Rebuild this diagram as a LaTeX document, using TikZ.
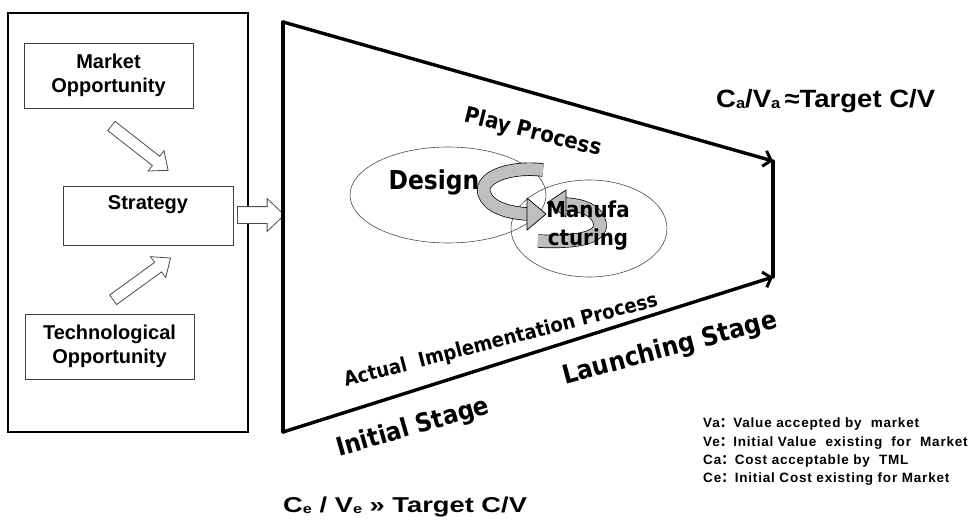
\documentclass[tikz,border=0pt]{standalone}
\usepackage{fontspec}
\usepackage{graphicx}
\setmainfont{Liberation Sans}
\newfontfamily\vfont[FakeStretch=0.9]{DejaVu Sans}
\newfontfamily\widefont[FakeStretch=1.27]{Liberation Sans}
\newfontfamily\ratiofont[FakeStretch=1.1]{Liberation Sans}
\newfontfamily\cjk{Noto Sans CJK SC}
\usetikzlibrary{shapes.geometric,shapes.arrows,arrows.meta}
% small lowered index letter used in C_a, V_e, ...
\newcommand{\idx}[1]{\raisebox{-0.05em}{\scalebox{0.6}{#1}}}
% full-width colon of the legend
\newcommand{\fwcolon}{{\cjk ：}}

\begin{document}
\begin{tikzpicture}[x=1pt,y=-1pt,
  box/.style={draw=black!75, line width=0.9pt, inner sep=0pt, align=center,
    font=\fontsize{20}{24}\selectfont\bfseries},
  hollow/.style={single arrow, draw=black!70, line width=0.8pt, fill=white,
    inner sep=5.5pt, single arrow head extend=7pt, minimum width=25pt,
    single arrow tip angle=80},
  frame/.style={line width=3.4pt, line cap=round, line join=round},
  frametip/.style={frame, -{Straight Barb[length=7pt,width=16pt,line width=3pt]}},
  oval/.style={ellipse, draw=black!70, line width=0.6pt, inner sep=0pt},
  ribbon/.style={line width=0.7pt, double=gray!50, double distance=12pt},
  ribbonhead/.style={fill=gray!50, draw=black, line width=0.7pt, line join=round},
  slant/.style={font=\vfont\bfseries, inner sep=0pt},
  legend/.style={anchor=base west, inner sep=0pt,
    font=\fontsize{13.5}{16}\selectfont\bfseries\addfontfeature{LetterSpace=6}}
]
\useasboundingbox (0,0) rectangle (975,522);

% ---------- left panel ----------
\node[draw=black, line width=1.8pt, minimum width=240pt, minimum height=419pt,
  inner sep=0pt] (panel) at (128,222.5) {};
\node[box, minimum width=169pt, minimum height=65pt] (mkt) at (108.5,75.5) {Market\\Opportunity};
\node[box, minimum width=170pt, minimum height=59pt] (strat) at (148,215.5) {Strategy\\[2pt]~};
\node[box, minimum width=169pt, minimum height=65pt] (tech) at (109.5,346.5) {Technological\\Opportunity};

\node[hollow, minimum height=72pt, rotate=-38] (a1) at (137,146) {};
\node[hollow, minimum height=71pt, rotate=36] (a2) at (139,281) {};
\node[hollow, minimum height=47pt, inner sep=8pt, single arrow head extend=8pt,
  minimum width=32pt, single arrow tip angle=87] (a3) at (256.5,215) {};

% ---------- trapezoid frame ----------
\coordinate (tl) at (283,22);
\coordinate (bl) at (283,432);
\coordinate (tr) at (773,161);
\coordinate (br) at (773,277);
\draw[frame] (bl) -- (tl);
\draw[frametip] (tl) -- (tr);
\draw[frametip] (bl) -- (br);
\draw[frame] (tr) -- (br);

% ---------- design / manufacturing loop ----------
\node[oval, minimum width=196pt, minimum height=96pt] (des) at (448,195) {};
\node[oval, minimum width=156pt, minimum height=97pt] (man) at (589,228.5) {};

\coordinate (r1s) at (543,170);
\coordinate (r1e) at (528,214);
\coordinate (r2s) at (538,241);
\coordinate (r2e) at (565,204);
\draw[ribbon] (r2s) .. controls (575,243) and (602,238) .. (600,224)
  .. controls (598,210) and (582,205) .. (r2e);
\draw[ribbonhead] (566,190) -- (547,203) -- (566,217) -- cycle;
\draw[ribbon] (r1s) .. controls (508,166) and (480,178) .. (484,193)
  .. controls (488,207) and (508,213) .. (r1e);
\draw[ribbonhead] (527,198) -- (546,214) -- (527,230) -- cycle;

\node[slant, font=\vfont\bfseries\fontsize{26}{28}\selectfont] (tdes) at (434,182) {Design};
\node[slant, align=center, font=\vfont\bfseries\fontsize{22}{28}\selectfont] (tman) at (588,226) {Manufa\\cturing};

% ---------- labels along the frame ----------
\node[slant, font=\vfont\bfseries\fontsize{22}{24}\selectfont, rotate=-14] (play) at (533,133) {Play Process};
\node[slant, font=\vfont\bfseries\fontsize{20}{22}\selectfont, rotate=14.5] (act) at (501,341) {Actual~~Implementation Process};
\node[slant, font=\vfont\bfseries\fontsize{26}{28}\selectfont, rotate=15] (launch) at (670,349) {Launching Stage};
\node[slant, font=\vfont\bfseries\fontsize{25.5}{28}\selectfont, rotate=16] (init) at (413,428) {Initial Stage};

% ---------- ratios ----------
\node[anchor=base west, inner sep=0pt, font=\ratiofont\fontsize{25}{28}\selectfont\bfseries] (goal) at (716,107)
  {C\idx{a}/V\idx{a}\,≈Target C/V};
\node[anchor=base west, inner sep=0pt, font=\widefont\fontsize{21.5}{26}\selectfont\bfseries] (start) at (283,512)
  {C\idx{e} / V\idx{e} » Target C/V};

% ---------- legend ----------
\node[legend] (l1) at (703,427) {Va\fwcolon Value accepted by~ market};
\node[legend] (l2) at (703,446) {Ve\fwcolon Initial Value~ existing~ for~ Market};
\node[legend] (l3) at (703,464) {Ca\fwcolon Cost acceptable by~ TML};
\node[legend] (l4) at (703,482) {Ce\fwcolon Initial Cost existing for Market};
\end{tikzpicture}
\end{document}
